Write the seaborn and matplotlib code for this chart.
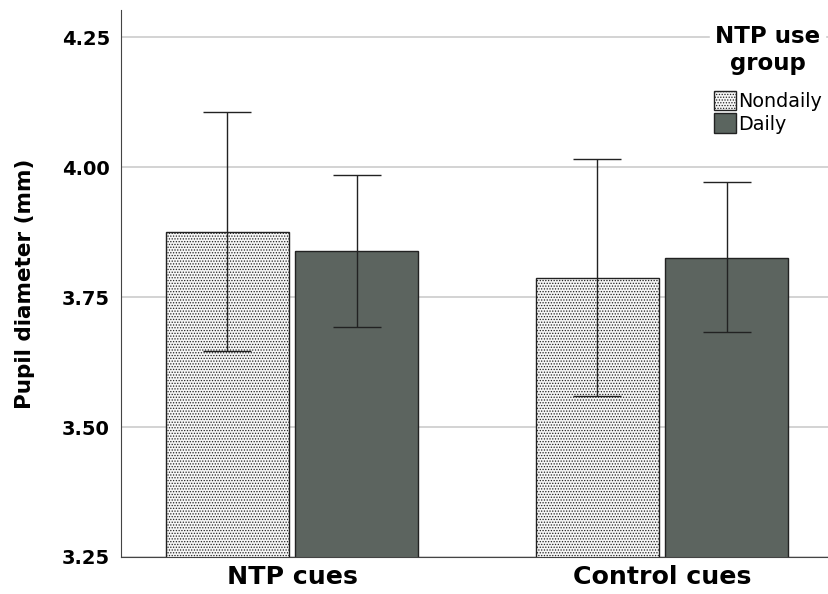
import numpy as np
import pandas as pd
import matplotlib
matplotlib.use("Agg")
import matplotlib.pyplot as plt
import seaborn as sns
from matplotlib.patches import Patch

cues = ["NTP cues", "Control cues"]
groups = ["Nondaily", "Daily"]
means_nondaily = [3.875, 3.787]
means_daily = [3.838, 3.825]
upper_nondaily = [4.106, 4.015]
lower_nondaily = [3.646, 3.560]
upper_daily = [3.985, 3.971]
lower_daily = [3.692, 3.683]

df = pd.DataFrame({
    "cue": cues * 2,
    "group": [groups[0]] * 2 + [groups[1]] * 2,
    "mean": means_nondaily + means_daily,
    "lo": lower_nondaily + lower_daily,
    "hi": upper_nondaily + upper_daily,
})

sns.set_style("white")
plt.rcParams["font.family"] = ["DejaVu Sans"]
plt.rcParams["hatch.linewidth"] = 0.6
plt.rcParams["text.color"] = "black"
plt.rcParams["axes.labelcolor"] = "black"
plt.rcParams["xtick.color"] = "black"
plt.rcParams["ytick.color"] = "black"

fig = plt.figure(figsize=(8.29, 5.94), dpi=100)
ax = fig.add_axes([0.146, 0.0623, 0.854, 0.9207])

light = "#f6f6f6"
dark = "#5b655f"
ax.set_ylim(3.25, 4.302)
ax.set_yticks([3.25, 3.50, 3.75, 4.00, 4.25])
ax.grid(axis="y", color="#c8c8c8", linewidth=1.1, zorder=0)
ax.set_axisbelow(True)

sns.barplot(data=df, x="cue", y="mean", hue="group", hue_order=groups,
            order=cues, palette=[light, dark], width=0.7, gap=0.05,
            errorbar=None, edgecolor="#222222", linewidth=1.0,
            legend=False, ax=ax, zorder=2)

# hatch the Nondaily bars and put error bars on all of them
for i, bar in enumerate(ax.patches):
    row = df.iloc[i]
    if row["group"] == "Nondaily":
        bar.set_hatch("......")
    cx = bar.get_x() + bar.get_width() / 2
    ax.errorbar([cx], [row["mean"]],
                yerr=[[row["mean"] - row["lo"]], [row["hi"] - row["mean"]]],
                fmt="none", ecolor="#222222", elinewidth=1.0, capsize=17,
                capthick=1.0, zorder=3)

ax.set_xlim(-0.462, 1.451)
ax.set_xlabel("")
ax.set_ylabel("Pupil diameter (mm)", fontsize=15.5, fontweight="bold", labelpad=19)
ax.set_yticklabels(["3.25", "3.50", "3.75", "4.00", "4.25"])
ax.tick_params(axis="y", labelsize=14, length=0, pad=8)
ax.tick_params(axis="x", labelsize=18.2, length=0, pad=6)
for lab in ax.get_yticklabels() + ax.get_xticklabels():
    lab.set_fontweight("bold")

for s in ["top", "right"]:
    ax.spines[s].set_visible(False)
ax.spines["left"].set_color("#444444")
ax.spines["bottom"].set_color("#444444")

handles = [Patch(facecolor=light, edgecolor="#222222", hatch="......"),
           Patch(facecolor=dark, edgecolor="#222222")]
leg = ax.legend(handles, groups, title="NTP use\ngroup", loc="upper right",
                bbox_to_anchor=(0.995, 0.98), frameon=True, facecolor="white",
                edgecolor="white", framealpha=1.0, fontsize=13.8,
                title_fontproperties={"weight": "bold", "size": 16.5},
                handlelength=1.15, handleheight=1.2, handletextpad=0.1,
                labelspacing=0.12, borderpad=0.2, borderaxespad=0.0)
leg._legend_box.align = "center"
leg._legend_box.sep = 11
leg.get_title().set_multialignment("center")
leg.get_title().set_linespacing(1.25)

fig.savefig("out.png", dpi=100)
